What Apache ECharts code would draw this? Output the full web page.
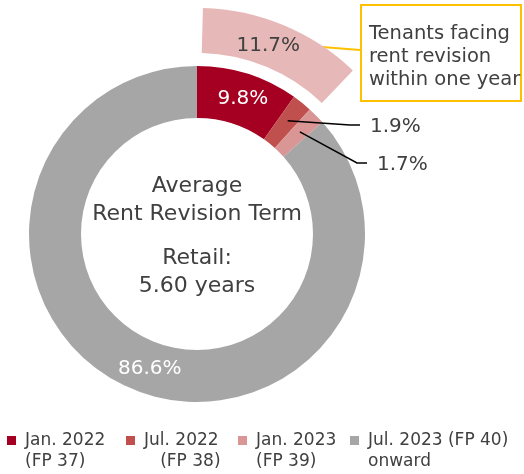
<!DOCTYPE html>
<html>
<head>
<meta charset="utf-8">
<script src="https://cdn.jsdelivr.net/npm/echarts@6/dist/echarts.min.js"></script>
<style>
  html, body { margin: 0; padding: 0; background: #fff; }
  #chart { width: 524px; height: 474px; }
</style>
</head>
<body>
<div id="chart"></div>
<script>
// rent revision timing, share of retail rent
const periods = ['Jan. 2022 (FP 37)', 'Jul. 2022 (FP 38)', 'Jan. 2023 (FP 39)', 'Jul. 2023 (FP 40) onward'];
const legendLabels = ['Jan. 2022\n(FP 37)', 'Jul. 2022\n   (FP 38)', 'Jan. 2023\n(FP 39)', 'Jul. 2023 (FP 40)\nonward'];
const shares = [9.8, 1.9, 1.7, 86.6];
const withinOneYear = 11.7; // sum of the first three periods
const centerTop = ['Average', 'Rent Revision Term'];
const centerBottom = ['Retail:', '5.60 years'];
const calloutLines = ['Tenants facing', 'rent revision', 'within one year'];

const colors = ['#A50021', '#C0504D', '#DA9694', '#A6A6A6'];
const FONT = 'DejaVu Sans';
const TXT = '#404040';
const CX = 197, CY = 234;
const R_IN = 116, R_OUT = 168;

// small slices get their label off to the right with a leader line
const sideLabels = { 1: [370, 127], 2: [377, 165] };

const chart = echarts.init(document.getElementById('chart'));

const ringData = periods.map((name, i) => {
  const outside = !!sideLabels[i];
  return {
    name: name,
    value: shares[i],
    itemStyle: { color: colors[i] },
    label: outside
      ? { position: 'outside', color: TXT }
      : { position: 'inside', color: '#fff', offset: i === 3 ? [12, 2] : [2, 3] },
    labelLine: { show: false }
  };
});

// leader lines start in the middle of the slice (angle from the data)
const total = shares.reduce((a, b) => a + b, 0);
const leaders = [];
let acc = 0;
shares.forEach((v, i) => {
  const mid = (acc + v / 2) / total * Math.PI * 2;
  acc += v;
  if (!sideLabels[i]) return;
  const r = (R_IN + R_OUT) / 2 + 3;
  const sx = CX + r * Math.sin(mid), sy = CY - r * Math.cos(mid);
  const lx = sideLabels[i][0], ly = sideLabels[i][1];
  leaders.push({
    type: 'polyline',
    z: 10,
    shape: { points: [[sx, sy], [lx - 20, ly - 2], [lx - 10, ly - 2]] },
    style: { stroke: '#000', lineWidth: 1.5, fill: null }
  });
});

// legend: one block per period so the slots line up like the original
const legendX = [7, 126, 238, 350];
const legends = periods.map((name, i) => ({
  data: [name],
  left: legendX[i],
  top: 409,
  padding: 0,
  icon: 'rect',
  itemWidth: 9,
  itemHeight: 9,
  selectedMode: false,
  formatter: () => '\n' + legendLabels[i],
  textStyle: {
    fontFamily: FONT,
    fontSize: 17,
    lineHeight: 21,
    color: TXT,
    padding: [0, 0, 0, 4]
  }
}));

chart.setOption({
  animation: false,
  color: colors,
  legend: legends,
  series: [
    {
      name: 'ring',
      type: 'pie',
      center: [CX, CY],
      radius: [R_IN, R_OUT],
      startAngle: 90,
      clockwise: true,
      avoidLabelOverlap: false,
      silent: true,
      emphasis: { disabled: true },
      label: {
        show: true,
        formatter: '{c}%',
        fontFamily: FONT,
        fontSize: 20
      },
      labelLayout: function (p) {
        const pos = sideLabels[p.dataIndex];
        if (!pos) return {};
        return { x: pos[0], y: pos[1], align: 'left', verticalAlign: 'middle' };
      },
      data: ringData
    },
    {
      name: 'within one year',
      type: 'pie',
      center: [CX, CY],
      radius: [181, 226],
      startAngle: 88.5,
      clockwise: true,
      silent: true,
      emphasis: { disabled: true },
      label: {
        show: true,
        position: 'inside',
        formatter: '{c}%',
        fontFamily: FONT,
        fontSize: 20,
        color: TXT,
        offset: [-8, 2]
      },
      labelLine: { show: false },
      data: [
        { name: 'within', value: withinOneYear, itemStyle: { color: '#E6B8B7' } },
        { name: 'rest', value: 100 - withinOneYear, itemStyle: { color: 'transparent' }, label: { show: false } }
      ]
    }
  ],
  graphic: leaders.concat([
    {
      type: 'text', x: CX, y: 200,
      style: {
        text: centerTop.join('\n'), align: 'center', verticalAlign: 'middle',
        fontFamily: FONT, fontSize: 22, lineHeight: 28, fill: TXT
      }
    },
    {
      type: 'text', x: CX, y: 272,
      style: {
        text: centerBottom.join('\n'), align: 'center', verticalAlign: 'middle',
        fontFamily: FONT, fontSize: 22, lineHeight: 28, fill: TXT
      }
    },
    {
      type: 'line',
      shape: { x1: 322, y1: 47, x2: 360, y2: 50 },
      style: { stroke: '#FFC000', lineWidth: 2 }
    },
    {
      type: 'rect',
      shape: { x: 361, y: 5, width: 160, height: 96 },
      style: { fill: '#fff', stroke: '#FFC000', lineWidth: 2 }
    },
    {
      type: 'text', x: 369, y: 22,
      style: {
        text: calloutLines.join('\n'), align: 'left', verticalAlign: 'top',
        fontFamily: FONT, fontSize: 19.5, lineHeight: 23, fill: TXT
      }
    }
  ])
});
</script>
</body>
</html>
